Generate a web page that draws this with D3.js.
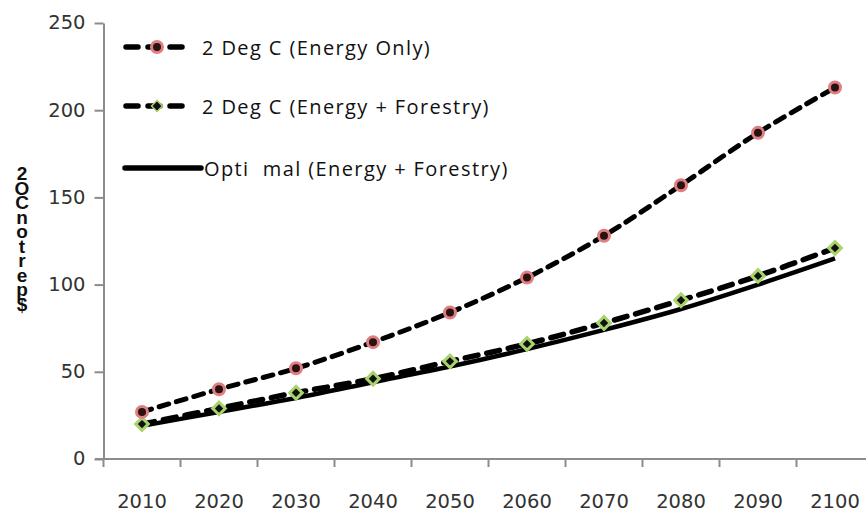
<!DOCTYPE html>
<html><head><meta charset="utf-8">
<script src="https://cdn.jsdelivr.net/npm/d3@7"></script>
<style>body{margin:0;background:#fff;overflow:hidden}</style>
</head><body>
<svg id="c" width="866" height="514"></svg>
<script>
const years = [2010,2020,2030,2040,2050,2060,2070,2080,2090,2100];
const energyOnly = [27,40,52,67,84,104,128,157,187,213];
const energyForestry = [20,29,38,46,56,66,78,91,105,121];
const optimal = [19,27,35,44,53,63,74,86,100,115];
const yTicks = [0,50,100,150,200,250];
const seriesNames = ["2 Deg C (Energy Only)","2 Deg C (Energy + Forestry)","Opti  mal (Energy + Forestry)"];
const yLabel = "2OCnotrep$";

const svg = d3.select("#c");
const font = "'DejaVu Sans', Verdana, sans-serif";
const lfont = "'Open Sans', 'Liberation Sans', sans-serif";
const x = d3.scaleBand().domain(years).range([103.5, 873.5]);
const y = d3.scaleLinear().domain([0,250]).range([459,23]);
const cx = d => x(d) + x.bandwidth()/2;

// axes
const yAx = svg.append("g").attr("transform","translate(103.5,0)")
  .call(d3.axisLeft(y).tickValues(yTicks).tickSize(9).tickSizeOuter(0).tickPadding(9));
yAx.select(".domain").attr("stroke","#8c8c8c").attr("stroke-width",2);
yAx.selectAll(".tick line").attr("stroke","#8c8c8c").attr("stroke-width",2);
yAx.selectAll(".tick text").attr("font-family",font).attr("font-size",19.5).attr("fill","#333").attr("dy","0.3em");

const xAx = svg.append("g").attr("transform","translate(0,459)");
xAx.append("line").attr("x1",95).attr("x2",866).attr("y1",0).attr("y2",0).attr("stroke","#8c8c8c").attr("stroke-width",2);
xAx.selectAll("line.t").data(years).enter().append("line").attr("class","t")
  .attr("x1",d=>x(d)).attr("x2",d=>x(d)).attr("y1",0).attr("y2",8).attr("stroke","#8c8c8c").attr("stroke-width",2);
xAx.selectAll("text").data(years).enter().append("text")
  .attr("x",d=>cx(d)).attr("y",49).attr("text-anchor","middle")
  .attr("font-family",font).attr("font-size",19.5).attr("fill","#333").text(d=>d);

// y label (stacked upright characters)
svg.append("text").attr("x",22).attr("y",163)
  .attr("font-family","'Liberation Sans', sans-serif").attr("font-weight","bold").attr("font-size",19).attr("fill","#111")
  .style("writing-mode","vertical-rl").style("text-orientation","upright")
  .attr("textLength",152).attr("lengthAdjust","spacing")
  .text(yLabel);

const line = d3.line().x((d,i)=>cx(years[i])).y(d=>y(d)).curve(d3.curveCatmullRom.alpha(0.5));

svg.append("path").datum(optimal).attr("d",line).attr("fill","none").attr("stroke","#000").attr("stroke-width",4.5);
svg.append("path").datum(energyForestry).attr("d",line).attr("fill","none").attr("stroke","#000").attr("stroke-width",5.5).attr("stroke-dasharray","13,9").attr("stroke-linecap","round");
svg.append("path").datum(energyOnly).attr("d",line).attr("fill","none").attr("stroke","#000").attr("stroke-width",5).attr("stroke-dasharray","10,8").attr("stroke-linecap","round");

svg.selectAll("path.dm").data(energyForestry).enter().append("path").attr("class","dm")
  .attr("d",d3.symbol().type(d3.symbolSquare).size(80))
  .attr("transform",(d,i)=>`translate(${cx(years[i])},${y(d)}) rotate(45)`)
  .attr("fill","#111").attr("stroke","#a9d36c").attr("stroke-width",3);
svg.selectAll("circle.eo").data(energyOnly).enter().append("circle").attr("class","eo")
  .attr("cx",(d,i)=>cx(years[i])).attr("cy",d=>y(d)).attr("r",5.5)
  .attr("fill","#2a1212").attr("stroke","#e07f80").attr("stroke-width",3);

// legend
const lg = svg.append("g");
const ly = [47,106,168];
lg.append("line").attr("x1",126).attr("x2",188).attr("y1",ly[0]).attr("y2",ly[0]).attr("stroke","#000").attr("stroke-width",5.5).attr("stroke-dasharray","12,10").attr("stroke-linecap","round");
lg.append("circle").attr("cx",157).attr("cy",ly[0]).attr("r",5.5).attr("fill","#2a1212").attr("stroke","#e07f80").attr("stroke-width",3);
lg.append("line").attr("x1",126).attr("x2",188).attr("y1",ly[1]).attr("y2",ly[1]).attr("stroke","#000").attr("stroke-width",5.5).attr("stroke-dasharray","12,10").attr("stroke-linecap","round");
lg.append("path").attr("d",d3.symbol().type(d3.symbolSquare).size(60)).attr("transform",`translate(157,${ly[1]}) rotate(45)`).attr("fill","#111").attr("stroke","#a9d36c").attr("stroke-width",1.5);
lg.append("line").attr("x1",125).attr("x2",201).attr("y1",ly[2]).attr("y2",ly[2]).attr("stroke","#000").attr("stroke-width",5.5).attr("stroke-linecap","round");
const tx = [202,202,204];
seriesNames.forEach((s,i)=>{
  lg.append("text").attr("x",tx[i]).attr("y",ly[i]+8).attr("font-family",lfont).attr("font-size",20).attr("fill","#111")
    .style("white-space","pre").style("letter-spacing","1.4px").text(s);
});
</script>
</body></html>
